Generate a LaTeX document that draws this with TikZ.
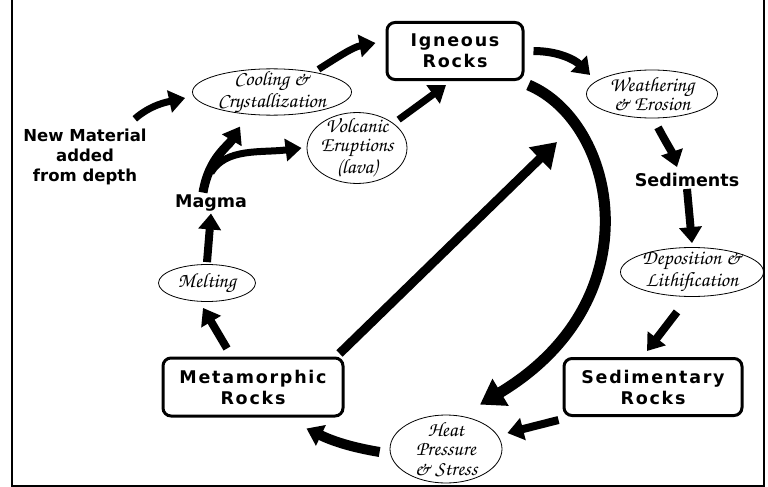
\documentclass[tikz,border=0pt]{standalone}
\usepackage[T1]{fontenc}
\usepackage{fontspec}
\usetikzlibrary{shapes,arrows.meta}
\newfontfamily\rockfont[LetterSpace=10]{DejaVu Sans}
\newfontfamily\lblfont{DejaVu Sans}
\newcommand{\chancery}{\fontencoding{T1}\fontfamily{pzc}\fontseries{mb}\fontshape{it}\selectfont}
\tikzstyle{rock}=[rectangle,rounded corners=8pt,draw=black,line width=3pt,align=center,inner sep=0pt,font=\rockfont\bfseries\fontsize{17.5}{21}\selectfont]
\tikzstyle{proc}=[ellipse,draw=black,line width=.8pt,align=center,inner xsep=-2pt,inner ysep=-5pt,font=\chancery\fontsize{20.5}{19.5}\selectfont]
\tikzstyle{lbl}=[align=center,inner sep=2pt,font=\lblfont\bfseries\fontsize{17.5}{20}\selectfont]
\tikzstyle{arr}=[line width=7pt,-{Triangle[length=16pt,width=22pt]}]
\tikzstyle{bigarr}=[line width=10pt,-{Triangle[length=24pt,width=30pt]}]

\begin{document}
\begin{tikzpicture}[x=1pt,y=-1pt]
\useasboundingbox (0,0) rectangle (768,487);
\draw[line width=2.5pt] (12,0) -- (12,486) -- (764,486) -- (764,0);

\node[rock,minimum width=136pt,minimum height=57pt] (ign) at (455,51) {Igneous\\Rocks};
\node[rock,minimum width=180pt,minimum height=58pt] (met) at (253,387) {Metamorphic\\Rocks};
\node[rock,minimum width=178pt,minimum height=57pt] (sed) at (653,387) {Sedimentary\\Rocks};
\node[proc,minimum width=131pt,minimum height=48pt] (weath) at (652,94) {Weathering\\\& Erosion};
\node[proc,minimum width=143pt,minimum height=49pt] (depo) at (692,272) {Deposition \&\\Lithification};
\node[proc,minimum width=112pt,minimum height=68pt] (heat) at (446,449) {Heat\\Pressure\\\& Stress};
\node[proc,minimum width=97pt,minimum height=37pt] (melt) at (207,283) {Melting};
\node[proc,minimum width=159pt,minimum height=45pt] (cool) at (272,92) {Cooling \&\\Crystallization};
\node[proc,minimum width=100pt,minimum height=62pt] (volc) at (357,148) {Volcanic\\Eruptions\\(lava)};
\node[lbl] (magma) at (211,203) {Magma};
\node[lbl] (sedim) at (687,180) {Sediments};
\node[lbl,font=\lblfont\bfseries\fontsize{16.5}{20}\selectfont] (newmat) at (85,157) {New Material\\added\\from depth};
\coordinate (up) at (557,142);

\draw[arr] ([shift={(-14pt,8pt)}]newmat.north east) .. controls +(16,-14) and +(-18,4) .. ([shift={(-7pt,-6pt)}]cool.west);
\draw[arr] ([shift={(-10pt,6pt)}]cool.north east) .. controls +(22,-14) and +(-22,4) .. ([shift={(-10pt,8pt)}]ign.west);
\draw[arr,line width=9pt] ([xshift=-8pt]magma.north) .. controls +(6,-35) and +(-12,20) .. ([shift={(-32pt,-11pt)}]cool.south);
\draw[arr] ([shift={(0pt,20pt)}]magma.north) .. controls +(15,-25) and +(-40,5) .. ([xshift=-5pt]volc.west);
\draw[arr] ([shift={(6pt,3pt)}]volc.north east) -- ([shift={(-9pt,-4pt)}]ign.south);
\draw[arr,line width=8pt] ([xshift=9pt]ign.east) .. controls +(25,0) and +(-15,-15) .. ([shift={(4pt,19pt)}]weath.west);
\draw[arr,line width=8pt] ([shift={(6pt,-9pt)}]weath.south) .. controls +(8,15) and +(-5,-15) .. ([shift={(-10pt,4pt)}]sedim.north);
\draw[arr,line width=8pt] (sedim.south) -- ([yshift=4pt]depo.north);
\draw[arr,line width=8pt] ([shift={(-15pt,-15pt)}]depo.south) -- ([shift={(-6pt,6pt)}]sed.north);
\draw[arr,line width=8pt] ([shift={(-4pt,-3pt)}]sed.south west) -- ([shift={(5pt,16pt)}]heat.east);
\draw[arr,line width=10pt] ([shift={(-10pt,-3pt)}]heat.west) .. controls +(-30,-5) and +(25,12) .. ([shift={(-38pt,-11pt)}]met.south east);
\draw[arr,line width=8pt] ([shift={(-26pt,8pt)}]met.north) -- ([shift={(-4pt,-6pt)}]melt.south);
\draw[arr,line width=8pt] ([yshift=2pt]melt.north) -- (magma.south);
\draw[bigarr,line width=9pt] ([shift={(-5pt,3pt)}]met.north east) -- (up);
\draw[bigarr,line width=11pt] ([shift={(4pt,-4pt)}]ign.south east) .. controls +(88,37) and +(175,-105) .. ([shift={(34pt,10pt)}]heat.north);
\end{tikzpicture}
\end{document}
